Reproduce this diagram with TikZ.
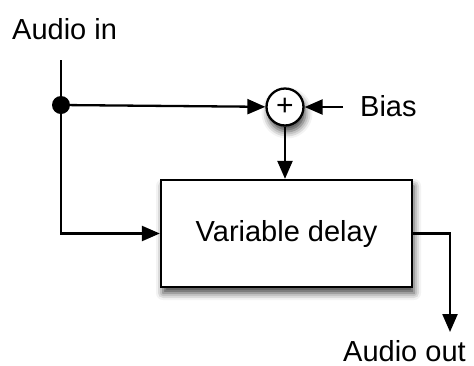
\documentclass[tikz,border=0pt]{standalone}
\usepackage{fontspec}
\setmainfont{Liberation Sans}
\usetikzlibrary{arrows.meta,shadows.blur}

\begin{document}
\begin{tikzpicture}[x=1pt,y=-1pt,
  wire/.style={line width=2.3pt},
  flow/.style={wire,-{Triangle[length=18pt,width=15pt]}},
  lbl/.style={font=\fontsize{29}{34}\selectfont,inner sep=0pt,anchor=base west},
  softshadow/.style={blur shadow={shadow xshift=2pt,shadow yshift=-6pt,shadow blur radius=7pt,shadow opacity=75}},
  junction/.style={circle,fill=black,minimum size=18pt,inner sep=0pt},
  summer/.style={circle,draw,line width=2.3pt,fill=white,minimum size=37pt,inner sep=0pt,softshadow,font=\fontsize{30}{30}\selectfont},
  block/.style={rectangle,draw,line width=2.3pt,fill=white,minimum width=251pt,minimum height=107pt,softshadow,font=\fontsize{29}{34}\selectfont}]
  \useasboundingbox (0,0) rectangle (474,365);

  % labels
  \node[lbl] (ain) at (12,39) {Audio in};
  \node[lbl] (bias) at (360,116) {Bias};
  \node[lbl] (aout) at (343,361) {Audio out};

  % blocks
  \coordinate (intop) at (61,60);
  \node[junction] (j) at (61,105) {};
  \node[summer] (sum) at (285,107) {\raisebox{1pt}{+}};
  \node[block] (delay) at (286.5,233.5) {Variable delay};
  \coordinate (outend) at (450,332);

  % signal paths
  \draw[wire] (intop) -- (j);
  \draw[flow] (j) -- (sum);
  \draw[flow] (j) |- (delay.west);
  \draw[flow,shorten <=17pt] (bias.west |- sum) -- (sum);
  \draw[flow] (sum) -- (sum |- delay.north);
  \draw[flow] (delay.east) -| (outend);
\end{tikzpicture}
\end{document}
